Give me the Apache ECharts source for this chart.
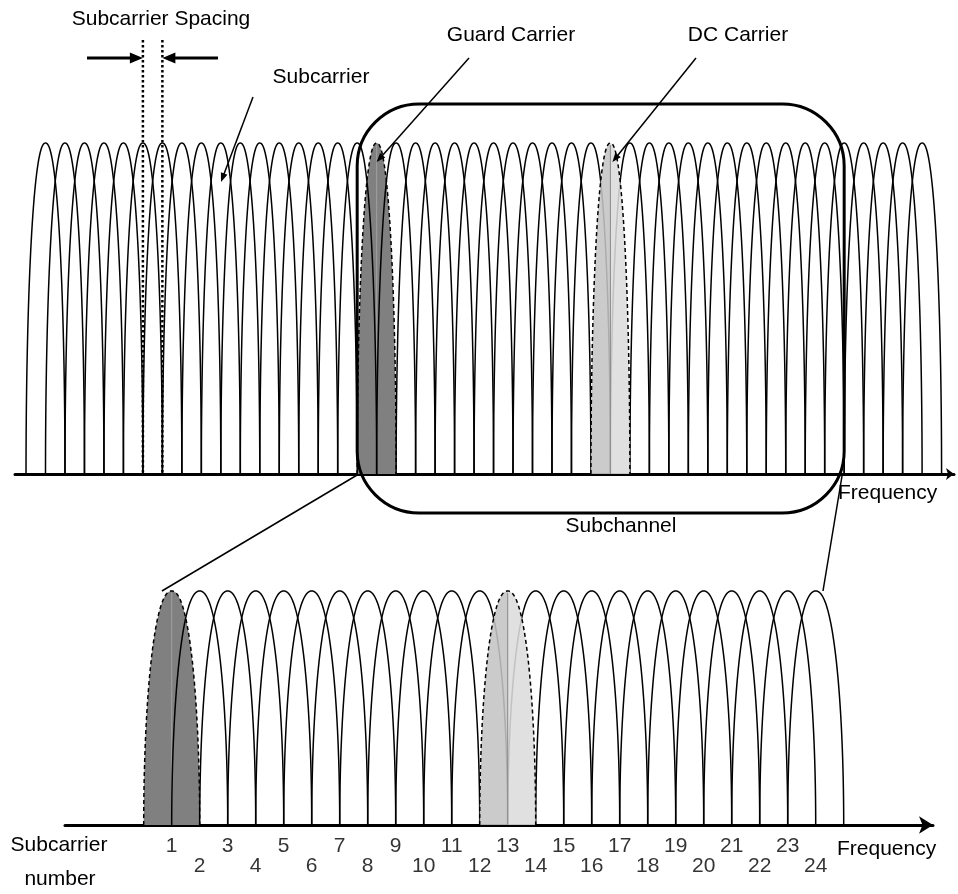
<!DOCTYPE html>
<html>
<head>
<meta charset="utf-8">
<script src="https://cdn.jsdelivr.net/npm/echarts@6/dist/echarts.min.js"></script>
<style>
  html, body { margin: 0; padding: 0; background: #fff; }
  #chart { width: 958px; height: 894px; }
</style>
</head>
<body>
<div id="chart"></div>
<script>
// ---------------- data ----------------
const topSubcarriers = [1,2,3,4,5,6,7,8,9,10,11,12,13,14,15,16,17,18,19,20,21,22,23,
  24,25,26,27,28,29,30,31,32,33,34,35,36,37,38,39,40,41,42,43,44,45,46];
const topGuardCarrier = 18;
const topDCCarrier = 30;
const subchannelFirstLast = [18, 41];
const spacingSubcarriers = [6, 7];

const subcarrierNumbers = [1,2,3,4,5,6,7,8,9,10,11,12,13,14,15,16,17,18,19,20,21,22,23,24];
const lowerGuardCarrier = 1;
const lowerDCCarrier = 13;
const lobeAmplitude = 1;

const labelTexts = {
  spacing: 'Subcarrier Spacing',
  subcarrier: 'Subcarrier',
  guard: 'Guard Carrier',
  dc: 'DC Carrier',
  frequency: 'Frequency',
  subchannel: 'Subchannel',
  axisName: ['Subcarrier', 'number']
};

// ---------------- rendering ----------------
const FONT = '21px "Liberation Sans", Arial, Helvetica, sans-serif';
const chart = echarts.init(document.getElementById('chart'), null, { renderer: 'canvas' });

function lobePoints(api, idx) {
  const c = api.coord([idx, 0]);
  const r = api.coord([idx + 1, 0]);
  const t1 = api.coord([idx, api.value(1)]);
  const w = r[0] - c[0];
  const H = c[1] - t1[1];
  const pts = [];
  const N = 80;
  for (let j = 0; j <= N; j++) {
    const th = -Math.PI / 2 + Math.PI * j / N;
    const t = Math.sin(th);
    const y = Math.sqrt(Math.max(0, 1 - Math.pow(Math.abs(t), 2.2)));
    pts.push([c[0] + t * w, c[1] - H * y]);
  }
  return { pts, c, top: t1 };
}

function regularRender(params, api) {
  const { pts } = lobePoints(api, api.value(0));
  return { type: 'polyline', shape: { points: pts },
           style: { stroke: '#000', fill: null, lineWidth: 1.5 } };
}

function shadedRender(params, api) {
  const idx = api.value(0);
  const kind = api.value(2);
  const { pts, c, top } = lobePoints(api, idx);
  let fill;
  if (kind === 0) {
    fill = '#808080';
  } else {
    fill = new echarts.graphic.LinearGradient(0, 0, 1, 0, [
      { offset: 0, color: '#c4c4c4' }, { offset: 0.5, color: '#c4c4c4' },
      { offset: 0.5, color: '#dcdcdc' }, { offset: 1, color: '#dcdcdc' }
    ]);
  }
  return {
    type: 'group',
    children: [
      { type: 'polygon', shape: { points: pts }, style: { fill: fill, stroke: null, opacity: kind === 0 ? 1 : 0.88 } },
      { type: 'line', shape: { x1: c[0], y1: c[1], x2: top[0], y2: top[1] + 2 },
        style: { stroke: kind === 0 ? '#a0a0a0' : '#8a8a8a', lineWidth: 1 } },
      { type: 'polyline', shape: { points: pts },
        style: { stroke: '#000', fill: null, lineWidth: 1.5, lineDash: [4, 3] } }
    ]
  };
}

const topRegular = topSubcarriers.filter(i => i !== topGuardCarrier && i !== topDCCarrier)
  .map(i => [i, lobeAmplitude]);
const lowerRegular = subcarrierNumbers.filter(i => i !== lowerGuardCarrier && i !== lowerDCCarrier)
  .map(i => [i, lobeAmplitude]);

const hiddenY = { type: 'value', min: 0, max: 1, show: false };

chart.setOption({
  animation: false,
  backgroundColor: '#fff',
  grid: [
    { left: 15, right: 4, top: 143, bottom: 420, containLabel: false, outerBoundsMode: 'none' },
    { left: 65, right: 25, top: 591, bottom: 69, containLabel: false, outerBoundsMode: 'none' }
  ],
  xAxis: [
    { type: 'value', gridIndex: 0, min: -0.5657, max: 47.638,
      axisLine: { show: true, onZero: false, symbol: ['none', 'arrow'], symbolSize: [9, 8],
                  lineStyle: { color: '#000', width: 3 } },
      axisTick: { show: false }, axisLabel: { show: false }, splitLine: { show: false } },
    { type: 'value', gridIndex: 1, min: -2.8107, max: 28.189,
      axisLine: { show: true, onZero: false, symbol: ['none', 'arrow'], symbolSize: [13, 14],
                  lineStyle: { color: '#000', width: 3 } },
      axisTick: { show: false }, axisLabel: { show: false }, splitLine: { show: false } }
  ],
  yAxis: [
    Object.assign({ gridIndex: 0 }, hiddenY),
    Object.assign({ gridIndex: 1 }, hiddenY)
  ],
  series: [
    { type: 'custom', xAxisIndex: 0, yAxisIndex: 0, z: 1, clip: false,
      renderItem: shadedRender, data: [[topGuardCarrier, lobeAmplitude, 0]] },
    { type: 'custom', xAxisIndex: 0, yAxisIndex: 0, z: 2, clip: false,
      renderItem: regularRender, data: topRegular },
    { type: 'custom', xAxisIndex: 0, yAxisIndex: 0, z: 3, clip: false,
      renderItem: shadedRender, data: [[topDCCarrier, lobeAmplitude, 1]] },
    { type: 'custom', xAxisIndex: 1, yAxisIndex: 1, z: 1, clip: false,
      renderItem: shadedRender, data: [[lowerGuardCarrier, lobeAmplitude, 0]] },
    { type: 'custom', xAxisIndex: 1, yAxisIndex: 1, z: 2, clip: false,
      renderItem: regularRender, data: lowerRegular },
    { type: 'custom', xAxisIndex: 1, yAxisIndex: 1, z: 3, clip: false,
      renderItem: shadedRender, data: [[lowerDCCarrier, lobeAmplitude, 1]] },
    { type: 'scatter', xAxisIndex: 1, yAxisIndex: 1, symbolSize: 0, z: 4,
      data: subcarrierNumbers.map(n => ({
        value: [n, 0], name: String(n),
        label: { offset: [0, n % 2 === 1 ? 21 : 41] }
      })),
      label: { show: true, position: 'inside', formatter: p => p.name,
               color: '#000', fontSize: 21, fontFamily: '"Liberation Sans", Arial, sans-serif' } }
  ]
});

// ---------------- annotations ----------------
const p0 = v => chart.convertToPixel({ gridIndex: 0 }, v);
const p1 = v => chart.convertToPixel({ gridIndex: 1 }, v);

function arrowHead(x1, y1, x2, y2, len, half) {
  const a = Math.atan2(y2 - y1, x2 - x1);
  const bx = x2 - len * Math.cos(a), by = y2 - len * Math.sin(a);
  const nx = -Math.sin(a) * half, ny = Math.cos(a) * half;
  return { type: 'polygon', z: 50, shape: { points: [[x2, y2], [bx + nx, by + ny], [bx - nx, by - ny]] },
           style: { fill: '#000', stroke: null } };
}
function arrow(x1, y1, x2, y2, width, len, half) {
  const a = Math.atan2(y2 - y1, x2 - x1);
  const ex = x2 - (len - 1) * Math.cos(a), ey = y2 - (len - 1) * Math.sin(a);
  return [
    { type: 'line', z: 50, shape: { x1, y1, x2: ex, y2: ey }, style: { stroke: '#000', lineWidth: width } },
    arrowHead(x1, y1, x2, y2, len, half)
  ];
}
function text(t, x, y, align) {
  return { type: 'text', z: 50, x, y,
           style: { text: t, font: FONT, fill: '#000', align: align || 'center', verticalAlign: 'middle' } };
}

const g = [];
const base0 = p0([0, 0])[1];

// Subchannel box
const bx1 = p0([subchannelFirstLast[0] - 1, 0])[0];
const bx2 = p0([subchannelFirstLast[1] + 1, 0])[0];
const by1 = p0([0, 1.118])[1];
const by2 = p0([0, -0.118])[1];
g.push({ type: 'rect', z: 40, shape: { x: bx1, y: by1, width: bx2 - bx1, height: by2 - by1, r: 62 },
         style: { stroke: '#000', fill: null, lineWidth: 3 } });

// spacing markers
const sx1 = p0([spacingSubcarriers[0], 0])[0];
const sx2 = p0([spacingSubcarriers[1], 0])[0];
const dotTop = p0([0, 1.311])[1];
[sx1, sx2].forEach(x => g.push({ type: 'line', z: 45, shape: { x1: x, y1: dotTop, x2: x, y2: base0 },
  style: { stroke: '#000', lineWidth: 2.5, lineDash: [2.5, 2.5] } }));
g.push(...arrow(87, 58, sx1, 58, 3, 13, 5.5));
g.push(...arrow(218, 58, sx2, 58, 3, 13, 5.5));
g.push(text(labelTexts.spacing, 161, 19));

// Subcarrier leader
g.push(text(labelTexts.subcarrier, 321, 77));
g.push(...arrow(253, 97, 221, 182, 1.5, 9, 3.5));

// Guard leader
const gPeak = p0([topGuardCarrier, lobeAmplitude]);
g.push(text(labelTexts.guard, 511, 35));
g.push(...arrow(469, 58, gPeak[0], gPeak[1] + 19, 1.5, 9, 3.5));

// DC leader
const dPeak = p0([topDCCarrier, lobeAmplitude]);
g.push(text(labelTexts.dc, 738, 35));
g.push(...arrow(696, 58, dPeak[0] + 2, dPeak[1] + 19, 1.5, 9, 3.5));

// Frequency / Subchannel labels
g.push(text(labelTexts.frequency, 838, 493, 'left'));
g.push(text(labelTexts.subchannel, 621, 526));

// Zoom lines
const zl1 = p0([subchannelFirstLast[0] - 1, 0]);
const zl2 = p0([subchannelFirstLast[1] + 1, 0]);
const zr1 = p1([0.65, lobeAmplitude]);
const zr2 = p1([24.26, lobeAmplitude]);
g.push({ type: 'line', z: 45, shape: { x1: zl1[0], y1: zl1[1] + 1, x2: zr1[0], y2: zr1[1] },
         style: { stroke: '#000', lineWidth: 1.5 } });
g.push({ type: 'line', z: 45, shape: { x1: zl2[0] - 2, y1: zl2[1] + 1, x2: zr2[0], y2: zr2[1] },
         style: { stroke: '#000', lineWidth: 1.5 } });

// lower axis texts
g.push(text(labelTexts.axisName[0], 59, 845));
g.push(text(labelTexts.axisName[1], 60, 879));
g.push(text(labelTexts.frequency, 837, 849, 'left'));

chart.setOption({ graphic: g });
</script>
</body>
</html>
